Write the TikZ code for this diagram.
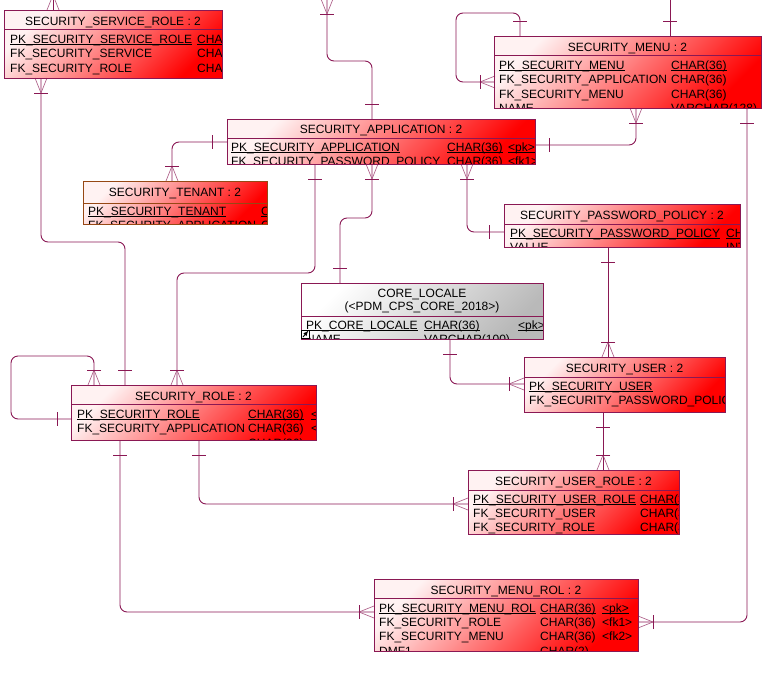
\documentclass[tikz,border=0pt]{standalone}
\usepackage{fontspec}
\setmainfont{Liberation Sans}
\usetikzlibrary{calc}

\definecolor{relcol}{RGB}{138,24,84}
\definecolor{tenantcol}{RGB}{150,72,20}
\definecolor{paleend}{RGB}{255,242,242}
\definecolor{redend}{RGB}{255,0,0}
\definecolor{greyend}{RGB}{185,185,185}

% key columns are underlined just under the baseline
\newcommand\keyline[1]{\setbox0=\hbox{#1}\rlap{\rule[-1.6pt]{\wd0}{0.8pt}}\box0}

\tikzset{
  relline/.style={draw=relcol, line width=0.9pt},
  crowline/.style={draw=relcol!75, line width=0.6pt},
  roundpath/.style={rounded corners=7pt},
  tblshape/.style={rectangle, inner sep=0pt, outer sep=0pt, anchor=north west},
  redtbl/.style={tblshape, top color=paleend, bottom color=redend, shading angle=45},
  greytbl/.style={tblshape, top color=white, bottom color=greyend, shading angle=45},
  border/.style={draw=relcol, line width=1pt},
  tenantborder/.style={draw=tenantcol, line width=1pt},
  sepline/.style={draw=relcol, line width=0.8pt},
  tenantsep/.style={draw=tenantcol, line width=0.8pt},
  ttl/.style={anchor=base, inner sep=0pt, font=\fontsize{12}{14}\selectfont},
  fld/.style={anchor=base west, inner sep=0pt, font=\fontsize{12}{14}\selectfont},
  pics/onebar/.style={code={\draw[relline] (0,-7) -- (0,7);}},
  pics/crowfoot/.style={code={
    \draw[crowline] (0,0) -- (15,6) (0,0) -- (15,-6);
    \draw[relline] (0,-7) -- (0,7);}},
}

\begin{document}
\begin{tikzpicture}[x=1pt, y=-1pt]
\useasboundingbox (0,0) rectangle (771,672);

% ---------- table bodies ----------
\node[redtbl,  minimum width=218, minimum height=68] (ssr) at (4,10)    {};
\node[redtbl,  minimum width=267, minimum height=72] (sm)  at (494,36)  {};
\node[redtbl,  minimum width=308, minimum height=45] (sa)  at (227,119) {};
\node[redtbl,  minimum width=184, minimum height=43] (st)  at (83,181)  {};
\node[redtbl,  minimum width=236, minimum height=43] (spp) at (504,204) {};
\node[greytbl, minimum width=242, minimum height=56] (cl)  at (301,283) {};
\node[redtbl,  minimum width=245, minimum height=55] (sr)  at (71,385)  {};
\node[redtbl,  minimum width=201, minimum height=55] (su)  at (524,357) {};
\node[redtbl,  minimum width=211, minimum height=64] (sur) at (468,470) {};
\node[redtbl,  minimum width=264, minimum height=72] (smr) at (374,579) {};

% ---------- relationships ----------
% application -> entity above the sheet
\coordinate (offA) at (327,0);
\draw[relline,roundpath] (offA) -- (327,61) -- (372,61) -- ($(sa.north west)+(145,0)$);
\pic[rotate=90] at (327,14) {crowfoot};
\pic[rotate=90] at (372,104) {onebar};

% service role <- entity above the sheet
\coordinate (offB) at (53,-3);
\draw[relline] ($(ssr.north west)+(49,0)$) -- (offB);
\pic[rotate=-90] at (53,-5) {crowfoot};

% service role -> role
\draw[relline,roundpath] ($(ssr.south west)+(37,0)$) -- (41,242) -- (125,242) -- ($(sr.north west)+(54,0)$);
\pic[rotate=90] at (41,93) {crowfoot};
\pic[rotate=90] at (125,370) {onebar};

% role self reference
\draw[relline,roundpath] ($(sr.north west)+(23,0)$) -- (94,356) -- (11,356) -- (11,419) -- ($(sr.north west)+(0,34)$);
\pic[rotate=-90] at (94,370) {crowfoot};
\pic at (57,419) {onebar};

% application -> role
\draw[relline,roundpath] ($(sa.south west)+(88,0)$) -- (315,273) -- (177,273) -- ($(sr.north west)+(106,0)$);
\pic[rotate=90] at (315,179) {onebar};
\pic[rotate=-90] at (177,370) {crowfoot};

% application -> tenant
\draw[relline,roundpath] ($(sa.north west)+(0,23)$) -- (172,142) -- ($(st.north west)+(89,0)$);
\pic at (212,142) {onebar};
\pic[rotate=-90] at (172,166) {crowfoot};

% application -> menu
\draw[relline,roundpath] ($(sa.north east)+(0,26)$) -- (636,145) -- ($(sm.south west)+(142,0)$);
\pic at (549,145) {onebar};
\pic[rotate=90] at (636,123) {crowfoot};

% menu self reference
\draw[relline,roundpath] ($(sm.north west)+(26,0)$) -- (520,13) -- (456,13) -- (456,82) -- ($(sm.north west)+(0,46)$);
\pic[rotate=90] at (520,21) {onebar};
\pic at (480,82) {crowfoot};

% menu -> entity above the sheet
\coordinate (offI) at (670,0);
\draw[relline] ($(sm.north west)+(176,0)$) -- (offI);
\pic[rotate=90] at (670,21) {onebar};

% menu -> menu role
\draw[relline,roundpath] ($(sm.south west)+(253,0)$) -- (747,622) -- ($(smr.north east)+(0,43)$);
\pic[rotate=90] at (747,123) {onebar};
\pic[rotate=180] at (653,622) {crowfoot};

% password policy -> application
\draw[relline,roundpath] ($(sa.south west)+(240,0)$) -- (467,232) -- ($(spp.north west)+(0,28)$);
\pic[rotate=90] at (467,179) {crowfoot};
\pic at (489,232) {onebar};

% locale -> application
\draw[relline,roundpath] ($(sa.south west)+(145,0)$) -- (372,218) -- (340,218) -- ($(cl.north west)+(39,0)$);
\pic[rotate=90] at (372,179) {crowfoot};
\pic[rotate=90] at (340,268) {onebar};

% password policy -> user
\draw[relline] ($(spp.south west)+(104,0)$) -- ($(su.north west)+(84,0)$);
\pic[rotate=90] at (608,262) {onebar};
\pic[rotate=-90] at (608,342) {crowfoot};

% locale -> user
\draw[relline,roundpath] ($(cl.south west)+(149,0)$) -- (450,384) -- ($(su.north west)+(0,27)$);
\pic[rotate=90] at (450,354) {onebar};
\pic at (509,384) {crowfoot};

% user -> user role
\draw[relline] ($(su.south west)+(79,0)$) -- ($(sur.north west)+(135,0)$);
\pic[rotate=90] at (603,427) {onebar};
\pic[rotate=-90] at (603,455) {crowfoot};

% role -> user role
\draw[relline,roundpath] ($(sr.south west)+(128,0)$) -- (199,504) -- ($(sur.north west)+(0,34)$);
\pic[rotate=90] at (199,455) {onebar};
\pic at (453,504) {crowfoot};

% role -> menu role
\draw[relline,roundpath] ($(sr.south west)+(49,0)$) -- (120,612) -- ($(smr.north west)+(0,33)$);
\pic[rotate=90] at (120,455) {onebar};
\pic at (359,612) {crowfoot};

% ---------- table contents ----------
% SECURITY_SERVICE_ROLE
\begin{scope}
  \clip (ssr.north west) rectangle (ssr.south east);
  \node[ttl] (ssr-t) at (113,25.5) {SECURITY\_SERVICE\_ROLE : 2};
  \node[fld] (ssr-n1) at (10,43.5) {\keyline{PK\_SECURITY\_SERVICE\_ROLE}};
  \node[fld] (ssr-c1) at (197,43.5) {\keyline{CHAR(36)}};
  \node[fld] (ssr-n2) at (10,57.9) {FK\_SECURITY\_SERVICE};
  \node[fld] (ssr-c2) at (197,57.9) {CHAR(36)};
  \node[fld] (ssr-n3) at (10,72.3) {FK\_SECURITY\_ROLE};
  \node[fld] (ssr-c3) at (197,72.3) {CHAR(36)};
\end{scope}
\draw[sepline] ($(ssr.north west)+(0,19.5)$) -- ($(ssr.north east)+(0,19.5)$);
\draw[border] (ssr.north west) rectangle (ssr.south east);

% SECURITY_MENU
\begin{scope}
  \clip (sm.north west) rectangle (sm.south east);
  \node[ttl] (sm-t) at (627.5,51) {SECURITY\_MENU : 2};
  \node[fld] (sm-n1) at (499,69.5) {\keyline{PK\_SECURITY\_MENU}};
  \node[fld] (sm-c1) at (671,69.5) {\keyline{CHAR(36)}};
  \node[fld] (sm-n2) at (499,83.9) {FK\_SECURITY\_APPLICATION};
  \node[fld] (sm-c2) at (671,83.9) {CHAR(36)};
  \node[fld] (sm-n3) at (499,98.3) {FK\_SECURITY\_MENU};
  \node[fld] (sm-c3) at (671,98.3) {CHAR(36)};
  \node[fld] (sm-n4) at (499,112.7) {NAME};
  \node[fld] (sm-c4) at (671,112.7) {VARCHAR(128)};
\end{scope}
\draw[sepline] ($(sm.north west)+(0,19)$) -- ($(sm.north east)+(0,19)$);
\draw[border] (sm.north west) rectangle (sm.south east);

% SECURITY_APPLICATION
\begin{scope}
  \clip (sa.north west) rectangle (sa.south east);
  \node[ttl] (sa-t) at (381,133.5) {SECURITY\_APPLICATION : 2};
  \node[fld] (sa-n1) at (231,151.5) {\keyline{PK\_SECURITY\_APPLICATION}};
  \node[fld] (sa-c1) at (447,151.5) {\keyline{CHAR(36)}};
  \node[fld] (sa-k1) at (508,151.5) {\keyline{<pk>}};
  \node[fld] (sa-n2) at (231,165.9) {FK\_SECURITY\_PASSWORD\_POLICY};
  \node[fld] (sa-c2) at (447,165.9) {CHAR(36)};
  \node[fld] (sa-k2) at (508,165.9) {<fk1>};
\end{scope}
\draw[sepline] ($(sa.north west)+(0,19)$) -- ($(sa.north east)+(0,19)$);
\draw[border] (sa.north west) rectangle (sa.south east);

% SECURITY_TENANT
\begin{scope}
  \clip (st.north west) rectangle (st.south east);
  \node[ttl] (st-t) at (175,196.5) {SECURITY\_TENANT : 2};
  \node[fld] (st-n1) at (88,215) {\keyline{PK\_SECURITY\_TENANT}};
  \node[fld] (st-c1) at (261,215) {\keyline{CHAR(36)}};
  \node[fld] (st-n2) at (88,229.4) {FK\_SECURITY\_APPLICATION};
  \node[fld] (st-c2) at (261,229.4) {CHAR(36)};
\end{scope}
\draw[tenantsep] ($(st.north west)+(0,22)$) -- ($(st.north east)+(0,22)$);
\draw[tenantborder] (st.north west) rectangle (st.south east);

% SECURITY_PASSWORD_POLICY
\begin{scope}
  \clip (spp.north west) rectangle (spp.south east);
  \node[ttl] (spp-t) at (622,219) {SECURITY\_PASSWORD\_POLICY : 2};
  \node[fld] (spp-n1) at (510,237.5) {\keyline{PK\_SECURITY\_PASSWORD\_POLICY}};
  \node[fld] (spp-c1) at (726,237.5) {\keyline{CHAR(36)}};
  \node[fld] (spp-n2) at (510,251.9) {VALUE};
  \node[fld] (spp-c2) at (726,251.9) {INTEGER};
\end{scope}
\draw[sepline] ($(spp.north west)+(0,20)$) -- ($(spp.north east)+(0,20)$);
\draw[border] (spp.north west) rectangle (spp.south east);

% CORE_LOCALE (shortcut to another model)
\begin{scope}
  \clip (cl.north west) rectangle (cl.south east);
  \node[ttl] (cl-t1) at (422,297.5) {CORE\_LOCALE};
  \node[ttl] (cl-t2) at (422,310) {(<PDM\_CPS\_CORE\_2018>)};
  \node[fld] (cl-n1) at (306,329) {\keyline{PK\_CORE\_LOCALE}};
  \node[fld] (cl-c1) at (424,329) {\keyline{CHAR(36)}};
  \node[fld] (cl-k1) at (518,329) {\keyline{<pk>}};
  \node[fld] (cl-n2) at (306,343.4) {NAME};
  \node[fld] (cl-c2) at (424,343.4) {VARCHAR(100)};
\end{scope}
\draw[sepline] ($(cl.north west)+(0,33)$) -- ($(cl.north east)+(0,33)$);
\draw[border] (cl.north west) rectangle (cl.south east);
\node[draw=black, fill=white, line width=0.6pt, minimum size=8, inner sep=0pt] (cl-icon) at (305.5,334) {};
\draw[black, line width=0.9pt, -latex] (303,337) -- (308.5,330.5);

% SECURITY_ROLE
\begin{scope}
  \clip (sr.north west) rectangle (sr.south east);
  \node[ttl] (sr-t) at (193.5,400) {SECURITY\_ROLE : 2};
  \node[fld] (sr-n1) at (77,418.5) {\keyline{PK\_SECURITY\_ROLE}};
  \node[fld] (sr-c1) at (248,418.5) {\keyline{CHAR(36)}};
  \node[fld] (sr-k1) at (311,418.5) {\keyline{<pk>}};
  \node[fld] (sr-n2) at (77,432.9) {FK\_SECURITY\_APPLICATION};
  \node[fld] (sr-c2) at (248,432.9) {CHAR(36)};
  \node[fld] (sr-k2) at (311,432.9) {<fk>};
  \node[fld] (sr-c3) at (248,447.3) {CHAR(36)};
\end{scope}
\draw[sepline] ($(sr.north west)+(0,19)$) -- ($(sr.north east)+(0,19)$);
\draw[border] (sr.north west) rectangle (sr.south east);

% SECURITY_USER
\begin{scope}
  \clip (su.north west) rectangle (su.south east);
  \node[ttl] (su-t) at (624.5,372) {SECURITY\_USER : 2};
  \node[fld] (su-n1) at (529,390.5) {\keyline{PK\_SECURITY\_USER}};
  \node[fld] (su-n2) at (529,404.9) {FK\_SECURITY\_PASSWORD\_POLICY};
\end{scope}
\draw[sepline] ($(su.north west)+(0,20)$) -- ($(su.north east)+(0,20)$);
\draw[border] (su.north west) rectangle (su.south east);

% SECURITY_USER_ROLE
\begin{scope}
  \clip (sur.north west) rectangle (sur.south east);
  \node[ttl] (sur-t) at (573.5,485) {SECURITY\_USER\_ROLE : 2};
  \node[fld] (sur-n1) at (473,503) {\keyline{PK\_SECURITY\_USER\_ROLE}};
  \node[fld] (sur-c1) at (640,503) {\keyline{CHAR(36)}};
  \node[fld] (sur-n2) at (473,517.4) {FK\_SECURITY\_USER};
  \node[fld] (sur-c2) at (640,517.4) {CHAR(36)};
  \node[fld] (sur-n3) at (473,531.8) {FK\_SECURITY\_ROLE};
  \node[fld] (sur-c3) at (640,531.8) {CHAR(36)};
\end{scope}
\draw[sepline] ($(sur.north west)+(0,20)$) -- ($(sur.north east)+(0,20)$);
\draw[border] (sur.north west) rectangle (sur.south east);

% SECURITY_MENU_ROL
\begin{scope}
  \clip (smr.north west) rectangle (smr.south east);
  \node[ttl] (smr-t) at (506,594) {SECURITY\_MENU\_ROL : 2};
  \node[fld] (smr-n1) at (379,612) {\keyline{PK\_SECURITY\_MENU\_ROL}};
  \node[fld] (smr-c1) at (540,612) {\keyline{CHAR(36)}};
  \node[fld] (smr-k1) at (602,612) {\keyline{<pk>}};
  \node[fld] (smr-n2) at (379,626.4) {FK\_SECURITY\_ROLE};
  \node[fld] (smr-c2) at (540,626.4) {CHAR(36)};
  \node[fld] (smr-k2) at (602,626.4) {<fk1>};
  \node[fld] (smr-n3) at (379,640.8) {FK\_SECURITY\_MENU};
  \node[fld] (smr-c3) at (540,640.8) {CHAR(36)};
  \node[fld] (smr-k3) at (602,640.8) {<fk2>};
  \node[fld] (smr-n4) at (379,655.2) {DMF1};
  \node[fld] (smr-c4) at (540,655.2) {CHAR(2)};
\end{scope}
\draw[sepline] ($(smr.north west)+(0,19)$) -- ($(smr.north east)+(0,19)$);
\draw[border] (smr.north west) rectangle (smr.south east);
\end{tikzpicture}
\end{document}
